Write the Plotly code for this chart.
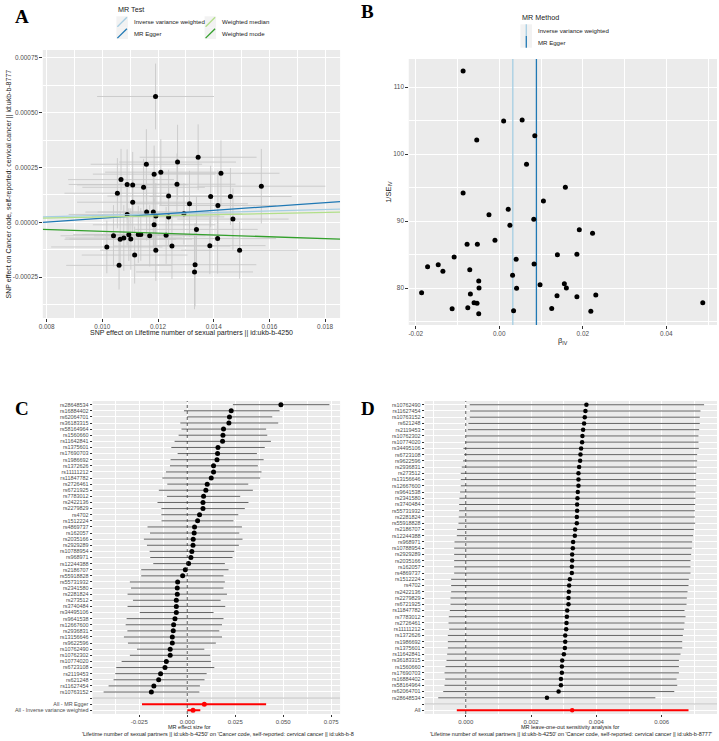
import plotly.graph_objects as go

W, H = 719, 741
BG = "#ebebeb"
TXT = "#4d4d4d"
IVW_COL, EGGER_COL, WMED_COL, WMODE_COL = "#a6cee3", "#1f78b4", "#b2df8a", "#33a02c"

# ---------------- A: scatter of SNP effects ----------------
snp_bx = [0.01158, 0.01270, 0.01186, 0.01210, 0.01067, 0.01089, 0.01109, 0.01148, 0.01268, 0.01054,
          0.01238, 0.01109, 0.01313, 0.01159, 0.01183, 0.01089, 0.01192, 0.01238, 0.01293, 0.01186,
          0.01040, 0.01064, 0.01077, 0.01095, 0.01102, 0.01129, 0.01138, 0.01170, 0.01229, 0.01016,
          0.01250, 0.01116, 0.01192, 0.01060, 0.01344, 0.01426, 0.01571, 0.01389, 0.01460, 0.01415,
          0.01469, 0.01338, 0.01414, 0.01386, 0.01493, 0.01333, 0.01331, 0.01191]
snp_by = [0.000265, 0.000275, 0.000220, 0.000229, 0.000195, 0.000173, 0.000171, 0.000160, 0.000174, 0.000133,
          0.000120, 0.000092, 0.000085, 0.000047, 0.000047, 0.000036, 0.000029, 0.000025, 0.000039, -0.000011,
          -0.000061, -0.000077, -0.000071, -0.000056, -0.000076, -0.000055, -0.000055, -0.000061, -0.000059, -0.000112,
          -0.000108, -0.000149, -0.000127, -0.000196, 0.000297, 0.000224, 0.000165, 0.000118, 0.000118, 0.000077,
          0.000015, -0.000032, -0.000074, -0.000106, -0.000127, -0.000193, -0.000226, 0.000574]
snp_se_x = [0.0020, 0.0021, 0.0022, 0.0020, 0.0019, 0.0021, 0.0020, 0.0022, 0.0021, 0.0019,
            0.0022, 0.0020, 0.0021, 0.0022, 0.0020, 0.0021, 0.0023, 0.0020, 0.0021, 0.0022,
            0.0019, 0.0020, 0.0021, 0.0020, 0.0022, 0.0019, 0.0021, 0.0020, 0.0022, 0.0020,
            0.0021, 0.0019, 0.0020, 0.0019, 0.0021, 0.0021, 0.0023, 0.0022, 0.0022, 0.0021,
            0.0020, 0.0022, 0.0021, 0.0020, 0.0021, 0.0022, 0.0021, 0.0021]
snp_se_y = [0.00016, 0.00017, 0.00013, 0.00015, 0.00014, 0.00016, 0.00015, 0.00013, 0.00014, 0.00016,
            0.00012, 0.00014, 0.00015, 0.00013, 0.00016, 0.00014, 0.00015, 0.00013, 0.00014, 0.00012,
            0.00014, 0.00013, 0.00015, 0.00012, 0.00014, 0.00013, 0.00012, 0.00014, 0.00013, 0.00012,
            0.00015, 0.00013, 0.00014, 0.00011, 0.00015, 0.00015, 0.00017, 0.00014, 0.00013, 0.00016,
            0.00014, 0.00015, 0.00016, 0.00013, 0.00013, 0.00019, 0.00017, 0.00015]

# MR estimates: slope / intercept of the fitted lines
methods = ["Inverse variance weighted", "MR Egger", "Weighted median", "Weighted mode"]
method_slope = [0.00325, 0.0089, 0.0025, -0.0041]
method_icept = [0.0, -0.00007, 0.0, 0.0]
method_color = [IVW_COL, EGGER_COL, WMED_COL, WMODE_COL]

a_xrange = [0.00786, 0.01854]
a_yrange = [-0.000436, 0.000786]
a_xticks = [0.008, 0.010, 0.012, 0.014, 0.016, 0.018]
a_xlabels = ["0.008", "0.010", "0.012", "0.014", "0.016", "0.018"]
a_yticks = [-0.00025, 0.0, 0.00025, 0.0005, 0.00075]
a_ylabels = ["-0.00025", "0.00000", "0.00025", "0.00050", "0.00075"]

# ---------------- B: funnel plot ----------------
beta_iv = [-0.00865, 0.00105, 0.00548, -0.00539, 0.00851, 0.00653, 0.01583, -0.00865, 0.01058, 0.00215,
           -0.00246, 0.00827, 0.00255, 0.01917, 0.02234, -0.00103, -0.00770, -0.00524, -0.01080, 0.01392,
           0.01859, 0.00405, 0.00834, -0.01716, -0.01461, -0.01349, -0.00706, 0.00319, -0.00491, 0.01559,
           0.00977, 0.01607, -0.00484, 0.00415, -0.01859, -0.00691, 0.01383, 0.01859, 0.02312, 0.04873,
           -0.00603, -0.00532, -0.01128, -0.00753, 0.01256, 0.00343, 0.02193, -0.00491]
inv_se_iv = [112.39, 104.93, 105.07, 102.09, 102.73, 98.46, 95.03, 94.18, 92.99, 91.75,
             90.94, 90.25, 89.36, 88.70, 88.16, 87.12, 86.52, 86.52, 84.63, 84.97,
             85.03, 84.28, 83.58, 83.18, 83.48, 82.49, 82.73, 81.90, 81.04, 80.64,
             80.49, 80.00, 80.00, 79.95, 79.30, 79.10, 78.85, 78.70, 78.96, 77.81,
             77.81, 77.71, 76.91, 77.06, 76.96, 76.61, 76.52, 76.16]
funnel_methods = ["Inverse variance weighted", "MR Egger"]
funnel_b = [0.00325, 0.0089]
funnel_color = [IVW_COL, EGGER_COL]
b_xrange = [-0.02167, 0.05214]
b_yrange = [74.48, 114.18]
b_xticks = [-0.02, 0.0, 0.02, 0.04]
b_xlabels = ["-0.02", "0.00", "0.02", "0.04"]
b_yticks = [80, 90, 100, 110]

# ---------------- C: forest plot ----------------
c_snps = ["rs28648534", "rs16884402", "rs62064701", "rs36183315", "rs58164964", "rs1560660", "rs11642841",
          "rs1375601", "rs17690703", "rs1986692", "rs1372626", "rs11111212", "rs11847782", "rs2726461",
          "rs6721925", "rs7783012", "rs2422136", "rs2279829", "rs4702", "rs1512224", "rs4869737", "rs162057",
          "rs2035166", "rs2929289", "rs10788954", "rs968971", "rs12244388", "rs2186707", "rs55918828",
          "rs55731932", "rs2341580", "rs2281824", "rs273512", "rs3740484", "rs34495106", "rs9641538",
          "rs12667600", "rs2936831", "rs13156646", "rs9622596", "rs10762490", "rs10762302", "rs10774020",
          "rs6723108", "rs2119453", "rs621248", "rs11627454", "rs10763152"]
c_b = [0.0488, 0.0229, 0.0220, 0.0217, 0.0189, 0.0186, 0.0184, 0.0160, 0.0158, 0.0155, 0.0137, 0.0137,
       0.0125, 0.0104, 0.0097, 0.0085, 0.0082, 0.0082, 0.0064, 0.0054, 0.0038, 0.0036, 0.0031, 0.0030,
       0.0024, 0.0019, 0.0007, -0.0010, -0.0024, -0.0050, -0.0052, -0.0052, -0.0057, -0.0057, -0.0057,
       -0.0064, -0.0071, -0.0073, -0.0078, -0.0078, -0.0089, -0.0089, -0.0109, -0.0116, -0.0139, -0.0149,
       -0.0174, -0.0187]
c_lo = [0.0238, -0.0017, 0.0000, -0.0036, -0.0030, -0.0045, -0.0066, -0.0083, -0.0050, -0.0087, -0.0090,
        -0.0111, -0.0130, -0.0104, -0.0148, -0.0106, -0.0155, -0.0135, -0.0135, -0.0134, -0.0207, -0.0194,
        -0.0226, -0.0210, -0.0196, -0.0193, -0.0177, -0.0240, -0.0240, -0.0299, -0.0293, -0.0311, -0.0283,
        -0.0311, -0.0247, -0.0316, -0.0321, -0.0312, -0.0330, -0.0309, -0.0262, -0.0299, -0.0342, -0.0370,
        -0.0375, -0.0384, -0.0410, -0.0436]
c_hi = [0.0741, 0.0481, 0.0443, 0.0474, 0.0411, 0.0417, 0.0436, 0.0404, 0.0363, 0.0398, 0.0368, 0.0387,
        0.0380, 0.0318, 0.0342, 0.0276, 0.0319, 0.0300, 0.0266, 0.0241, 0.0285, 0.0271, 0.0288, 0.0269,
        0.0245, 0.0236, 0.0196, 0.0215, 0.0189, 0.0196, 0.0189, 0.0207, 0.0174, 0.0198, 0.0137, 0.0189,
        0.0181, 0.0167, 0.0181, 0.0149, 0.0089, 0.0120, 0.0123, 0.0141, 0.0101, 0.0090, 0.0066, 0.0063]
c_sum_names = ["All - MR Egger", "All - Inverse variance weighted"]
c_sum_b = [0.0089, 0.0030]
c_sum_lo = [-0.0236, 0.0000]
c_sum_hi = [0.0411, 0.0068]
c_xrange = [-0.04938, 0.07967]
c_xticks = [-0.025, 0.0, 0.025, 0.05, 0.075]
c_xlabels = ["-0.025", "0.000", "0.025", "0.050", "0.075"]

# ---------------- D: leave-one-out ----------------
d_snps = ["rs10762490", "rs11627454", "rs10763152", "rs621248", "rs2119453", "rs10762302", "rs10774020",
          "rs34495106", "rs6723108", "rs9622596", "rs2936831", "rs273512", "rs13156646", "rs12667600",
          "rs9641538", "rs2341580", "rs3740484", "rs55731932", "rs2281824", "rs55918828", "rs2186707",
          "rs12244388", "rs968971", "rs10788954", "rs2929289", "rs2035166", "rs162057", "rs4869737",
          "rs1512224", "rs4702", "rs2422136", "rs2279829", "rs6721925", "rs11847782", "rs7783012",
          "rs2726461", "rs11111212", "rs1372626", "rs1986692", "rs1375601", "rs11642841", "rs36183315",
          "rs1560660", "rs17690703", "rs16884402", "rs58164964", "rs62064701", "rs28648534"]
d_b = [0.003695, 0.003665, 0.003645, 0.003624, 0.003594, 0.003573, 0.003563, 0.003533, 0.003513, 0.003502,
       0.003472, 0.003452, 0.003452, 0.003452, 0.003431, 0.003421, 0.003411, 0.003411, 0.003401, 0.003401,
       0.003350, 0.003340, 0.003289, 0.003279, 0.003259, 0.003259, 0.003249, 0.003249, 0.003188, 0.003167,
       0.003157, 0.003147, 0.003147, 0.003107, 0.003096, 0.003086, 0.003076, 0.003046, 0.003046, 0.003035,
       0.003005, 0.002954, 0.002944, 0.002944, 0.002914, 0.002914, 0.002843, 0.002487]
d_lo = [0.000122, 0.000132, 0.000122, 0.000081, 0.000061, 0.000010, -0.000010, -0.000071, -0.000051, -0.000081,
        -0.000122, -0.000152, -0.000152, -0.000152, -0.000173, -0.000193, -0.000203, -0.000203, -0.000213, -0.000223,
        -0.000264, -0.000274, -0.000345, -0.000355, -0.000355, -0.000355, -0.000355, -0.000355, -0.000447, -0.000447,
        -0.000447, -0.000467, -0.000467, -0.000487, -0.000518, -0.000528, -0.000508, -0.000548, -0.000548, -0.000548,
        -0.000569, -0.000589, -0.000619, -0.000650, -0.000629, -0.000650, -0.000690, -0.000843]
d_hi = [0.007299, 0.007188, 0.007167, 0.007167, 0.007147, 0.007127, 0.007127, 0.007137, 0.007086, 0.007086,
        0.007076, 0.007056, 0.007056, 0.007056, 0.007035, 0.007035, 0.007025, 0.007015, 0.007015, 0.007025,
        0.006985, 0.006964, 0.006934, 0.006924, 0.006903, 0.006883, 0.006883, 0.006883, 0.006832, 0.006822,
        0.006792, 0.006771, 0.006761, 0.006700, 0.006731, 0.006700, 0.006680, 0.006649, 0.006629, 0.006629,
        0.006578, 0.006528, 0.006528, 0.006528, 0.006457, 0.006477, 0.006386, 0.005807]
d_all_b, d_all_lo, d_all_hi = 0.003259, -0.000274, 0.006822
d_xrange = [-0.001259, 0.007695]
d_xticks = [0.0, 0.002, 0.004, 0.006]
d_xlabels = ["0.000", "0.002", "0.004", "0.006"]

c_title2 = ("'Lifetime number of sexual partners || id:ukb-b-4250' on "
            "'Cancer code, self-reported: cervical cancer || id:ukb-b-8")
d_title2 = ("'Lifetime number of sexual partners || id:ukb-b-4250' on "
            "'Cancer code, self-reported: cervical cancer || id:ukb-b-8777'")


def fx(p):
    return p / W


def fy(p):
    return 1 - p / H


def axis(dom, **kw):
    base = dict(domain=dom, showgrid=True, gridcolor="white", gridwidth=1.1, zeroline=False,
                showline=False, ticks="outside", ticklen=2.5, tickwidth=0.8, tickcolor="#333333",
                tickfont=dict(size=6.4, color=TXT, family="Liberation Sans"))
    base.update(kw)
    return base


def minor(tick0, dtick):
    return dict(tickmode="linear", tick0=tick0, dtick=dtick, showgrid=True,
                gridcolor="white", gridwidth=0.5, ticks="")


fig = go.Figure()

# A
fig.add_trace(go.Scatter(
    x=snp_bx, y=snp_by, mode="markers", xaxis="x", yaxis="y",
    marker=dict(size=5, color="black"),
    error_x=dict(type="data", array=snp_se_x, color="#c8c8c8", thickness=0.9, width=0),
    error_y=dict(type="data", array=snp_se_y, color="#c8c8c8", thickness=0.9, width=0),
))
for m, s, a, col in zip(methods, method_slope, method_icept, method_color):
    fig.add_trace(go.Scatter(x=a_xrange, y=[a + s * v for v in a_xrange], mode="lines",
                             xaxis="x", yaxis="y", line=dict(color=col, width=1.3), name=m))

# B: estimate lines then points
for b, col in zip(funnel_b, funnel_color):
    fig.add_trace(go.Scatter(x=[b, b], y=b_yrange, mode="lines", xaxis="x2", yaxis="y2",
                             line=dict(color=col, width=1.3)))
fig.add_trace(go.Scatter(x=beta_iv, y=inv_se_iv, mode="markers", xaxis="x2", yaxis="y2",
                         marker=dict(size=5, color="black")))

# C
c_cats = c_snps + [" "] + c_sum_names
fig.add_trace(go.Scatter(x=c_xrange, y=[" ", " "], mode="lines", xaxis="x3", yaxis="y3",
                         line=dict(color="#bebebe", width=1)))
fig.add_trace(go.Scatter(
    x=c_b, y=c_snps, mode="markers", xaxis="x3", yaxis="y3",
    marker=dict(size=5, color="black"),
    error_x=dict(type="data", symmetric=False, array=[h - b for h, b in zip(c_hi, c_b)],
                 arrayminus=[b - l for b, l in zip(c_b, c_lo)], color="#3c3c3c", thickness=0.8, width=0),
))
fig.add_trace(go.Scatter(
    x=c_sum_b, y=c_sum_names, mode="markers", xaxis="x3", yaxis="y3",
    marker=dict(size=5, color="red"),
    error_x=dict(type="data", symmetric=False, array=[h - b for h, b in zip(c_sum_hi, c_sum_b)],
                 arrayminus=[b - l for b, l in zip(c_sum_b, c_sum_lo)], color="red", thickness=2, width=0),
))

# D
d_cats = d_snps + [" ", "All"]
fig.add_trace(go.Scatter(x=d_xrange, y=[" ", " "], mode="lines", xaxis="x4", yaxis="y4",
                         line=dict(color="#bebebe", width=1)))
fig.add_trace(go.Scatter(
    x=d_b, y=d_snps, mode="markers", xaxis="x4", yaxis="y4",
    marker=dict(size=4.5, color="black"),
    error_x=dict(type="data", symmetric=False, array=[h - b for h, b in zip(d_hi, d_b)],
                 arrayminus=[b - l for b, l in zip(d_b, d_lo)], color="#3c3c3c", thickness=0.8, width=0),
))
fig.add_trace(go.Scatter(
    x=[d_all_b], y=["All"], mode="markers", xaxis="x4", yaxis="y4",
    marker=dict(size=4.5, color="red"),
    error_x=dict(type="data", symmetric=False, array=[d_all_hi - d_all_b],
                 arrayminus=[d_all_b - d_all_lo], color="red", thickness=2, width=0),
))

shapes = []
for xr, yr in [("x3", "y3 domain"), ("x4", "y4 domain")]:
    shapes.append(dict(type="line", xref=xr, yref=yr, x0=0, x1=0, y0=0, y1=1,
                       line=dict(color="#333333", width=0.8, dash="dot")))

annotations = []


def text(x, y, s, size, anchor="left", color="#1a1a1a", angle=0, family="Liberation Sans"):
    annotations.append(dict(x=fx(x), y=fy(y), xref="paper", yref="paper", text=s, showarrow=False,
                            xanchor=anchor, yanchor="middle", textangle=angle,
                            font=dict(size=size, color=color, family=family)))


# panel letters
for lab, x, y in [("A", 18, 17), ("B", 366, 11), ("C", 18, 408), ("D", 366, 408)]:
    text(x, y, "<b>%s</b>" % lab, 19, anchor="center", color="black", family="Liberation Serif")

# legend A (manual)
text(113, 9, "MR Test", 7.2)
key_pos = [(113, 16.3, 129, 22), (113, 27.7, 129, 33.3), (201.7, 16.3, 217.3, 22), (201.7, 27.7, 217.3, 33.3)]
for (kx, ky, tx, ty), m, col in zip(key_pos, methods, method_color):
    shapes.append(dict(type="rect", xref="paper", yref="paper", x0=fx(kx), x1=fx(kx + 11.6),
                       y0=fy(ky + 11.4), y1=fy(ky), fillcolor="#f2f2f2", line=dict(width=0)))
    shapes.append(dict(type="line", xref="paper", yref="paper", x0=fx(kx + 1), x1=fx(kx + 10.6),
                       y0=fy(ky + 10.4), y1=fy(ky + 1), line=dict(color=col, width=1.3)))
    text(tx, ty, m, 6.1)

# legend B (manual)
text(519.3, 17.3, "MR Method", 7.2)
for (ky, ty), m, col in zip([(24.3, 31), (36, 42.3)], funnel_methods, funnel_color):
    shapes.append(dict(type="rect", xref="paper", yref="paper", x0=fx(519.3), x1=fx(531),
                       y0=fy(ky + 11.7), y1=fy(ky), fillcolor="#f2f2f2", line=dict(width=0)))
    shapes.append(dict(type="line", xref="paper", yref="paper", x0=fx(525.2), x1=fx(525.2),
                       y0=fy(ky + 11.7), y1=fy(ky), line=dict(color=col, width=1.3)))
    text(534.7, ty, m, 6.1)

# axis titles
text(5.5, 184, "SNP effect on Cancer code, self-reported: cervical cancer || id:ukb-b-8777", 7,
     anchor="center", angle=-90)
text(188.5, 333, "SNP effect on Lifetime number of sexual partners || id:ukb-b-4250", 7, anchor="center")
text(387, 192, "1/SE<sub>IV</sub>", 7.5, anchor="center", angle=-90)
text(562, 341, "β<sub>IV</sub>", 7.5, anchor="center")
text(187, 727, "MR effect size for", 5.5, anchor="center")
text(76, 734, c_title2, 5.5)
text(570, 727, "MR leave-one-out sensitivity analysis for", 5.5, anchor="center")
text(570.5, 734, d_title2, 5.5, anchor="center")

fig.update_layout(
    width=W, height=H, margin=dict(l=0, r=0, t=0, b=0),
    paper_bgcolor="white", plot_bgcolor=BG, showlegend=False,
    font=dict(family="Liberation Sans", color="#1a1a1a"),
    xaxis=axis([fx(39), fx(338)], anchor="y", range=a_xrange, tickmode="array",
               tickvals=a_xticks, ticktext=a_xlabels, minor=minor(0.008, 0.001)),
    yaxis=axis([fy(318), fy(50)], anchor="x", range=a_yrange, tickmode="array",
               tickvals=a_yticks, ticktext=a_ylabels, minor=minor(-0.000375, 0.000125)),
    xaxis2=axis([fx(407), fx(717)], anchor="y2", range=b_xrange, tickmode="array",
                tickvals=b_xticks, ticktext=b_xlabels, minor=minor(-0.03, 0.01)),
    yaxis2=axis([fy(325), fy(59)], anchor="x2", range=b_yrange, tickmode="array",
                tickvals=b_yticks, minor=minor(75, 5)),
    xaxis3=axis([fx(89), fx(338)], anchor="y3", range=c_xrange, tickmode="array",
                tickvals=c_xticks, ticktext=c_xlabels, minor=minor(-0.0375, 0.0125), ticklen=1.5,
                tickfont=dict(size=6, color=TXT, family="Liberation Sans")),
    yaxis3=axis([fy(714), fy(401)], anchor="x3", type="category", categoryorder="array",
                categoryarray=c_cats, range=[len(c_cats) - 0.4, -0.6], ticklen=2,
                tickfont=dict(size=5.4, color=TXT, family="Liberation Sans")),
    xaxis4=axis([fx(423), fx(717)], anchor="y4", range=d_xrange, tickmode="array",
                tickvals=d_xticks, ticktext=d_xlabels, minor=minor(-0.001, 0.001), ticklen=1.5,
                tickfont=dict(size=6, color=TXT, family="Liberation Sans")),
    yaxis4=axis([fy(714), fy(401)], anchor="x4", type="category", categoryorder="array",
                categoryarray=d_cats, range=[len(d_cats) - 0.4, -0.6], ticklen=2,
                tickfont=dict(size=5.4, color=TXT, family="Liberation Sans")),
    shapes=shapes, annotations=annotations,
)

# the page's default 8px body margin would shift the whole figure
fig.write_html("out.html", config={"displayModeBar": False},
               post_script="document.body.style.margin='0px';")
